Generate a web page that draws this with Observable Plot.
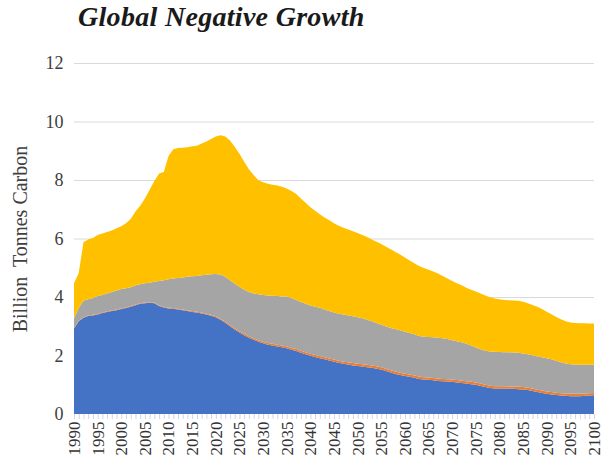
<!DOCTYPE html>
<html>
<head>
<meta charset="utf-8">
<script src="https://cdn.jsdelivr.net/npm/d3@7"></script>
<script src="https://cdn.jsdelivr.net/npm/@observablehq/plot@0.6"></script>
<style>
  html, body { margin: 0; padding: 0; background: #fff; }
  #title { height: 40px; margin: 0; padding-left: 78px; font: italic bold 28px "Liberation Serif", serif; line-height: 34px; color: #1a1a1a; letter-spacing: 0.3px; }
  svg { display: block; }
</style>
</head>
<body>
<div id="title">Global Negative Growth</div>
<div id="chart"></div>
<script>
const years = d3.range(1990, 2101);
const labelYears = d3.range(1990, 2101, 5);
const yTicks = [0, 2, 4, 6, 8, 10, 12];

// Top of the blue layer
const blueTop = [
  2.92,3.17,3.29,3.35,3.37,3.40,3.45,3.49,3.52,3.55,
  3.59,3.62,3.67,3.72,3.77,3.79,3.80,3.79,3.69,3.64,
  3.61,3.60,3.57,3.55,3.52,3.49,3.47,3.44,3.40,3.36,
  3.31,3.22,3.12,3.00,2.89,2.79,2.69,2.61,2.54,2.47,
  2.42,2.37,2.34,2.31,2.28,2.25,2.20,2.15,2.09,2.04,
  1.99,1.95,1.91,1.87,1.83,1.79,1.75,1.72,1.69,1.66,
  1.64,1.62,1.60,1.58,1.55,1.52,1.47,1.42,1.37,1.33,
  1.30,1.27,1.24,1.20,1.18,1.17,1.15,1.13,1.12,1.11,
  1.10,1.08,1.06,1.04,1.02,1.00,0.96,0.92,0.89,0.87,
  0.87,0.87,0.86,0.86,0.85,0.84,0.82,0.79,0.75,0.72,
  0.69,0.67,0.65,0.63,0.62,0.61,0.61,0.61,0.62,0.63,
  0.64
];
// Thickness of the thin orange layer
const orangeBand = [
  0.02,0.02,0.02,0.02,0.02,0.02,0.02,0.02,0.02,0.02,
  0.02,0.02,0.02,0.02,0.02,0.02,0.02,0.02,0.02,0.02,
  0.02,0.02,0.02,0.02,0.02,0.03,0.03,0.03,0.03,0.03,
  0.03,0.03,0.04,0.04,0.04,0.04,0.05,0.05,0.05,0.05,
  0.05,0.06,0.06,0.06,0.06,0.06,0.06,0.07,0.07,0.07,
  0.07,0.07,0.07,0.07,0.07,0.07,0.07,0.07,0.08,0.08,
  0.08,0.08,0.08,0.08,0.08,0.08,0.08,0.08,0.08,0.08,
  0.08,0.08,0.08,0.08,0.08,0.08,0.08,0.08,0.08,0.08,
  0.08,0.08,0.08,0.08,0.08,0.08,0.08,0.08,0.08,0.08,
  0.08,0.08,0.08,0.08,0.08,0.08,0.08,0.08,0.08,0.08,
  0.08,0.08,0.08,0.08,0.08,0.08,0.08,0.08,0.08,0.08,
  0.08
];
// Top of the gray layer
const grayTop = [
  3.27,3.62,3.87,3.92,3.97,4.03,4.07,4.12,4.17,4.22,
  4.27,4.30,4.33,4.39,4.44,4.47,4.49,4.52,4.55,4.57,
  4.61,4.63,4.65,4.67,4.69,4.71,4.72,4.74,4.76,4.78,
  4.79,4.77,4.69,4.57,4.45,4.35,4.25,4.17,4.12,4.09,
  4.07,4.05,4.04,4.03,4.02,4.02,3.97,3.90,3.83,3.77,
  3.71,3.67,3.63,3.57,3.52,3.47,3.43,3.40,3.37,3.34,
  3.31,3.27,3.22,3.17,3.11,3.05,2.99,2.94,2.90,2.86,
  2.81,2.77,2.73,2.67,2.64,2.63,2.62,2.61,2.59,2.56,
  2.52,2.49,2.45,2.40,2.34,2.27,2.21,2.16,2.14,2.13,
  2.12,2.11,2.11,2.10,2.09,2.07,2.04,2.01,1.97,1.94,
  1.91,1.87,1.82,1.77,1.73,1.70,1.69,1.68,1.68,1.68,
  1.68
];
// Total (top of yellow layer)
const total = [
  4.47,4.82,5.87,5.97,6.02,6.12,6.17,6.22,6.27,6.35,
  6.42,6.52,6.67,6.92,7.12,7.37,7.67,7.97,8.22,8.27,
  8.82,9.05,9.09,9.10,9.12,9.15,9.17,9.25,9.32,9.40,
  9.49,9.53,9.49,9.35,9.14,8.90,8.62,8.37,8.17,7.99,
  7.92,7.87,7.84,7.81,7.77,7.71,7.62,7.52,7.37,7.22,
  7.07,6.95,6.83,6.72,6.62,6.52,6.44,6.37,6.31,6.25,
  6.19,6.12,6.05,5.97,5.89,5.81,5.72,5.63,5.54,5.45,
  5.35,5.25,5.15,5.06,4.99,4.93,4.87,4.80,4.72,4.63,
  4.55,4.47,4.40,4.32,4.25,4.19,4.12,4.05,3.99,3.95,
  3.92,3.90,3.89,3.88,3.87,3.84,3.79,3.73,3.67,3.59,
  3.50,3.41,3.32,3.24,3.17,3.13,3.11,3.10,3.10,3.09,
  3.09
];

const seriesNames = ["Layer 1", "Layer 2", "Layer 3", "Layer 4"];
const seriesColors = ["#4472C4", "#ED7D31", "#A5A5A5", "#FFC000"];

const rows = [];
years.forEach((yr, i) => {
  rows.push({year: yr, series: seriesNames[0], value: blueTop[i]});
  rows.push({year: yr, series: seriesNames[1], value: orangeBand[i]});
  rows.push({year: yr, series: seriesNames[2], value: grayTop[i] - blueTop[i] - orangeBand[i]});
  rows.push({year: yr, series: seriesNames[3], value: total[i] - grayTop[i]});
});

const chart = Plot.plot({
  width: 616,
  height: 436,
  marginTop: 23,
  marginBottom: 62,
  marginLeft: 74,
  marginRight: 22,
  style: {background: "#fff", fontFamily: "Liberation Serif, serif"},
  x: {type: "linear", domain: [1990, 2100], label: null},
  y: {domain: [0, 12], label: null},
  color: {type: "ordinal", domain: seriesNames, range: seriesColors},
  marks: [
    Plot.ruleY(yTicks.filter(d => d > 0), {stroke: "#d9d9d9", strokeWidth: 1.2}),
    Plot.areaY(rows, {x: "year", y: "value", z: "series", fill: "series", order: seriesNames, curve: "linear"}),
    Plot.axisX({ticks: years, tickSize: 5, tickFormat: () => "", stroke: "#cfd6e4", strokeWidth: 1, label: null}),
    Plot.text(labelYears, {x: d => d, text: d => String(d), frameAnchor: "bottom", dy: 7, rotate: -90, textAnchor: "end", lineAnchor: "middle", fontSize: 17, fill: "#333333"}),
    Plot.axisY({ticks: yTicks, tickSize: 0, tickPadding: 11, fontSize: 18, color: "#404040", label: null}),
    Plot.text(["Billion  Tonnes Carbon"], {y: 6, frameAnchor: "left", dx: -54, rotate: -90, text: d => d, fontSize: 20, fill: "#404040", textAnchor: "middle", lineAnchor: "middle"})
  ]
});
document.getElementById("chart").appendChild(chart);
</script>
</body>
</html>
